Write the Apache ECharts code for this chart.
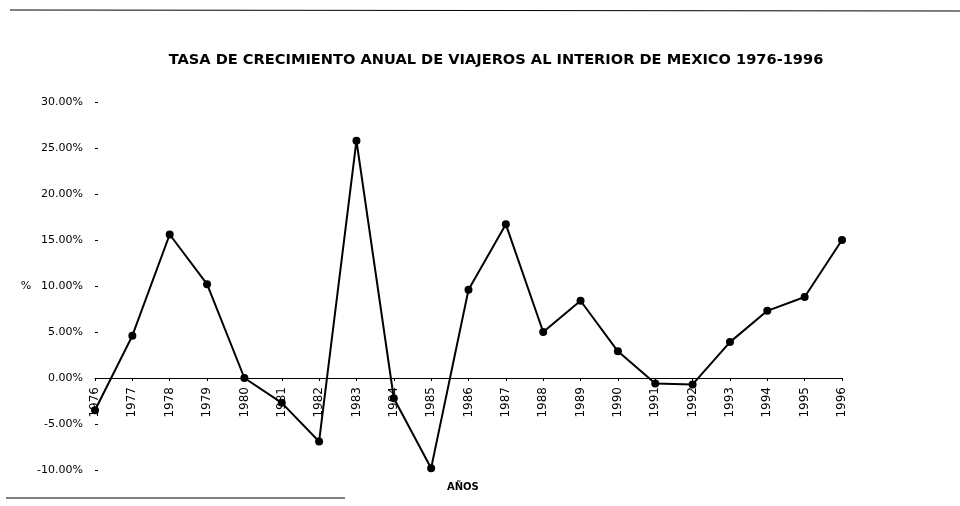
<!DOCTYPE html>
<html>
<head>
<meta charset="utf-8">
<script src="https://cdn.jsdelivr.net/npm/echarts@6/dist/echarts.min.js"></script>
<style>
  html, body { margin: 0; padding: 0; background: #fff; }
  #chart { width: 960px; height: 506px; }
</style>
</head>
<body>
<div id="chart"></div>
<script>
const years = ['1976', '1977', '1978', '1979', '1980', '1981', '1982', '1983', '1984', '1985', '1986',
  '1987', '1988', '1989', '1990', '1991', '1992', '1993', '1994', '1995', '1996']
// tasa de crecimiento anual (%)
const growthRate = [-3.5, 4.6, 15.6, 10.2, 0.0, -2.7, -6.9, 25.8, -2.2, -9.8, 9.6,
  16.7, 5.0, 8.4, 2.9, -0.6, -0.7, 3.9, 7.3, 8.8, 15.0]
const yTicks = { min: -10, max: 30, interval: 5 }

const FONT = 'DejaVu Sans, Liberation Sans, sans-serif'
const gridTop = 102
const gridBottom = 36
const plotH = 506 - gridTop - gridBottom
// x axis sits on the 0% line: lift it from the grid bottom
const zeroOffset = -plotH * (0 - yTicks.min) / (yTicks.max - yTicks.min)

const chart = echarts.init(document.getElementById('chart'))
chart.setOption({
  backgroundColor: '#fff',
  animation: false,
  textStyle: { fontFamily: FONT },
  title: {
    text: 'TASA DE CRECIMIENTO ANUAL DE VIAJEROS AL INTERIOR DE MEXICO 1976-1996',
    left: 491,
    top: 48,
    textAlign: 'center',
    textStyle: { fontSize: 14.6, fontWeight: 'bold', color: '#000', fontFamily: FONT }
  },
  grid: { left: 95, right: 118, top: gridTop, bottom: gridBottom },
  xAxis: {
    type: 'category',
    data: years,
    boundaryGap: false,
    offset: zeroOffset,
    axisLine: { onZero: false, lineStyle: { color: '#000', width: 1 } },
    axisTick: { show: true, length: 3, lineStyle: { color: '#000' } },
    axisLabel: { rotate: 90, color: '#000', fontSize: 12, margin: 9, interval: 0 }
  },
  yAxis: {
    type: 'value',
    min: yTicks.min,
    max: yTicks.max,
    interval: yTicks.interval,
    name: '%',
    nameLocation: 'middle',
    nameGap: 57,
    nameRotate: 0,
    nameTextStyle: { color: '#000', fontSize: 11 },
    axisLine: { show: false },
    axisTick: { show: true, length: 3, inside: true, lineStyle: { color: '#000' } },
    splitLine: { show: false },
    axisLabel: {
      color: '#000',
      fontSize: 11,
      margin: 12,
      formatter: v => v.toFixed(2) + '%'
    }
  },
  series: [{
    type: 'line',
    data: growthRate,
    symbol: 'circle',
    symbolSize: 8,
    itemStyle: { color: '#000' },
    lineStyle: { color: '#000', width: 2 }
  }],
  graphic: [
    { type: 'text', left: 447, top: 482, style: { text: 'AÑOS', fontSize: 10, fontWeight: 'bold', fill: '#000', fontFamily: FONT } },
    { type: 'line', shape: { x1: 10, y1: 10, x2: 960, y2: 11 }, style: { stroke: '#000', lineWidth: 1 } },
    { type: 'line', shape: { x1: 6, y1: 498, x2: 345, y2: 498 }, style: { stroke: '#000', lineWidth: 1 } }
  ]
})
</script>
</body>
</html>
